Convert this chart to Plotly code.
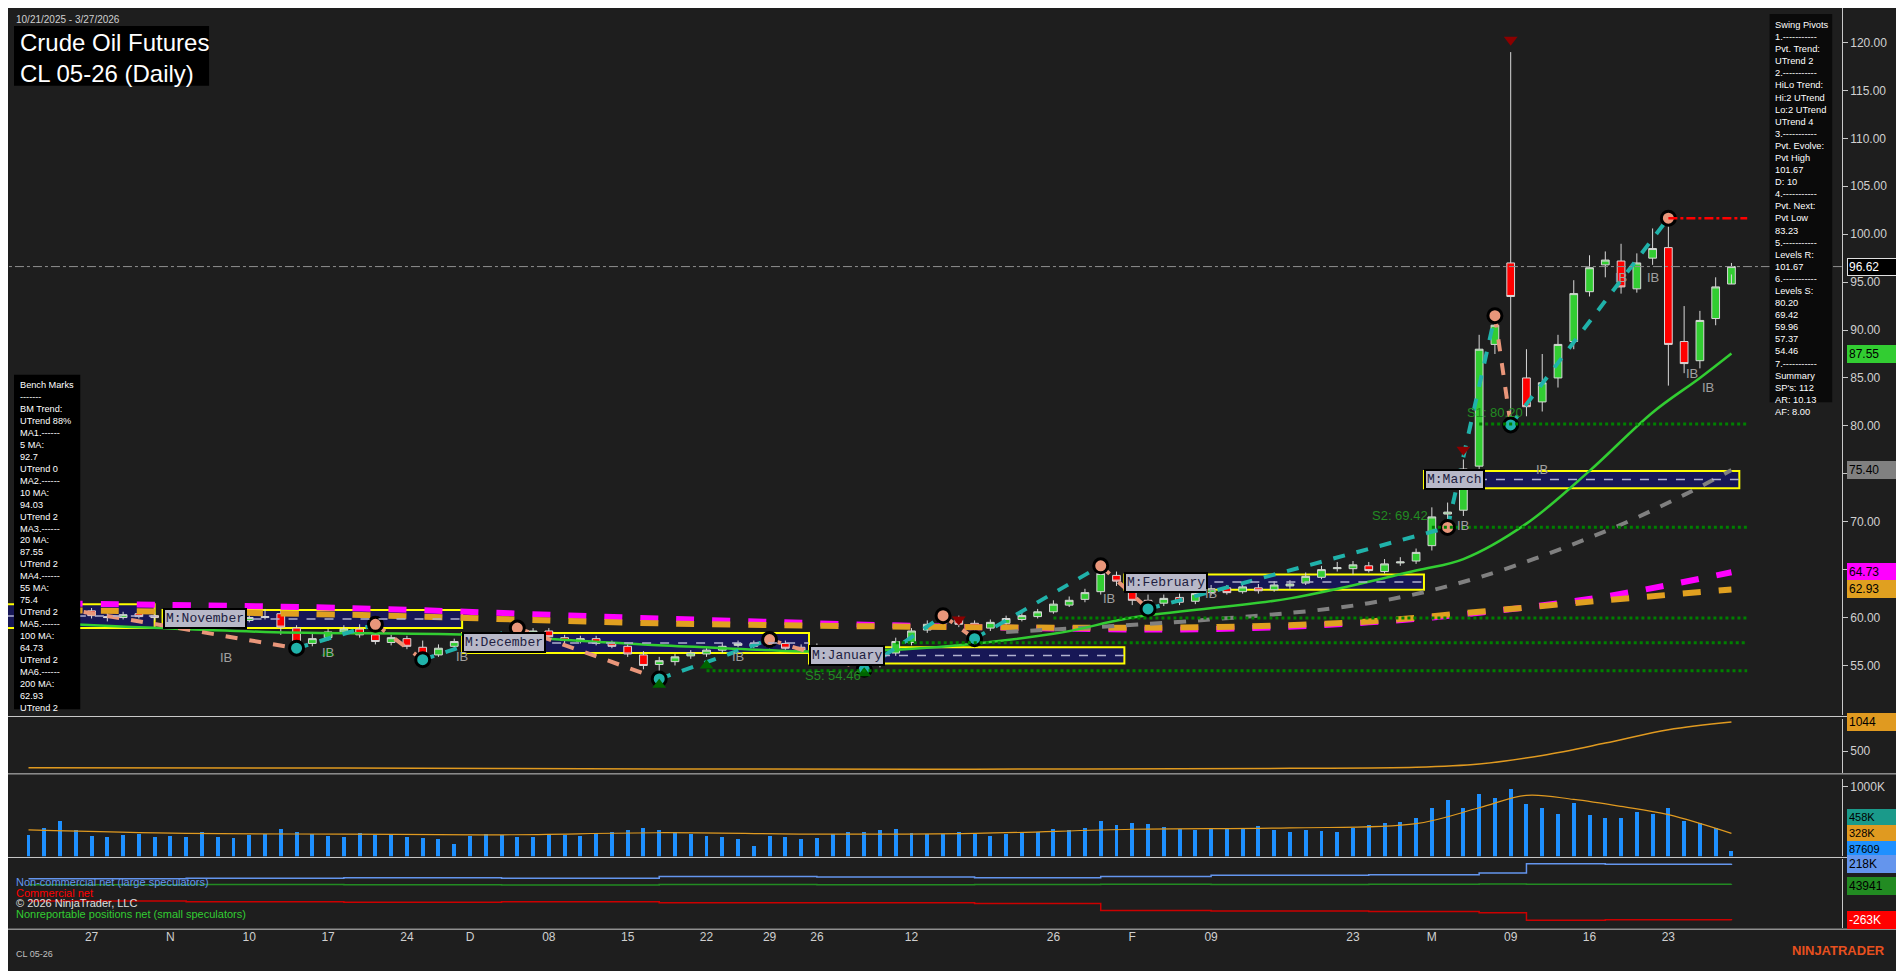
import pandas as pd
import plotly.graph_objects as go
from plotly.subplots import make_subplots

holidays = ["2025-11-27", "2025-12-25", "2026-01-01", "2026-01-19", "2026-02-16"]
dates = [d for d in pd.bdate_range("2025-10-21", "2026-03-27") if d.strftime("%Y-%m-%d") not in holidays]
idx = list(range(len(dates)))

opens = [58.6,58.3,59.0,60.4,60.7,60.1,60.0,60.4,60.2,
         60.0,60.1,59.9,59.4,59.5,59.7,60.0,60.4,58.9,57.3,57.9,58.5,58.8,58.2,57.4,57.8,56.9,56.1,57.0,
         57.6,57.8,57.6,58.3,58.4,58.6,57.9,57.5,57.8,57.3,57.0,56.1,55.1,55.4,56.0,56.2,56.6,57.1,57.3,57.0,57.3,56.9,
         56.5,56.8,56.0,55.4,55.0,56.3,57.4,58.7,59.4,59.8,59.4,58.9,59.4,59.8,60.1,60.6,61.3,61.9,62.7,64.4,
         63.4,61.8,61.5,62.1,61.7,62.6,63.1,62.7,63.1,62.9,63.3,63.6,64.2,65.1,65.1,65.4,64.8,65.7,65.9,
         67.5,70.8,71.2,75.8,88.5,97.0,85.0,82.5,85.0,88.8,94.0,96.8,97.2,94.3,97.5,98.6,88.8,86.8,91.2,94.8]
highs = [59.2,59.4,60.9,61.0,61.0,60.5,60.6,60.8,60.6,
         60.6,60.4,60.2,59.9,60.0,60.3,60.9,60.7,59.2,58.3,58.8,59.2,59.3,58.6,58.2,58.1,57.6,57.2,57.8,
         58.2,58.1,58.5,58.8,58.9,58.9,58.2,58.1,58.1,57.6,57.4,56.5,55.9,56.2,56.6,56.9,57.3,57.6,57.6,57.7,57.6,57.2,
         57.3,57.1,56.4,55.8,56.6,57.9,58.9,59.7,60.1,60.2,59.7,59.8,60.2,60.5,60.9,61.8,62.2,63.0,65.4,64.8,
         63.8,62.4,62.4,62.5,62.9,63.4,63.4,63.6,63.5,63.8,63.9,64.7,65.4,65.8,65.9,65.8,66.1,66.3,67.2,
         71.5,72.0,76.5,89.5,91.5,119.0,88.0,87.5,89.5,95.2,97.8,98.2,99.0,98.0,100.6,101.67,92.5,92.0,95.5,97.0]
lows = [57.9,58.0,58.7,60.0,59.9,59.6,59.8,59.9,59.7,
        59.6,59.5,59.2,59.0,59.2,59.5,59.8,58.2,56.8,57.0,57.6,58.2,57.9,57.2,57.1,56.7,55.6,55.9,56.8,
        57.4,57.3,57.4,58.0,58.2,57.8,57.3,57.3,57.1,56.8,55.9,54.6,53.6,55.0,55.7,55.9,56.3,56.9,56.8,56.8,56.6,56.3,
        56.2,55.7,55.0,54.6,54.8,56.0,57.1,58.4,59.1,59.0,58.6,58.6,59.1,59.6,59.9,60.4,61.1,61.6,62.4,63.3,
        61.3,60.9,61.2,61.3,61.4,62.3,62.4,62.5,62.5,62.7,63.0,63.4,64.0,64.8,64.5,64.7,64.6,65.4,65.6,
        67.0,69.4,70.6,75.0,87.5,80.1,81.0,81.5,84.0,88.0,93.5,95.5,93.8,93.9,96.8,84.2,85.5,86.0,90.5,95.8]
closes = [58.2,58.8,60.5,60.6,60.2,60.0,60.3,60.1,60.0,
          60.2,59.9,59.5,59.6,59.8,60.0,60.1,59.0,57.2,57.8,58.5,58.8,58.2,57.5,57.9,57.0,56.0,56.8,57.5,
          57.8,57.6,58.2,58.4,58.6,58.0,57.6,57.8,57.3,57.0,56.2,55.0,55.5,55.9,56.3,56.6,57.0,57.3,57.0,57.4,56.8,56.6,
          56.9,56.0,55.3,54.9,56.2,57.5,58.6,59.3,59.8,59.3,58.9,59.5,59.9,60.2,60.6,61.4,61.8,62.6,64.6,63.8,
          61.8,61.4,62.0,61.6,62.5,63.0,62.6,63.2,62.8,63.4,63.5,64.3,65.0,65.2,65.5,64.9,65.6,65.8,66.8,
          70.5,71.0,75.5,88.0,90.5,93.5,82.0,84.5,88.5,93.8,96.5,97.3,94.5,97.0,98.5,88.5,86.5,91.0,94.5,96.62]
volumes_k = [310,420,520,380,300,290,310,330,280,
             300,290,350,280,270,310,330,400,360,330,300,280,340,310,320,290,270,260,180,
             300,320,310,290,280,330,310,300,340,360,380,420,390,350,330,300,280,250,160,300,290,260,
             270,330,350,360,380,400,340,320,330,350,330,300,320,340,360,400,380,420,520,460,
             480,470,430,400,380,420,410,400,440,390,360,380,370,350,420,460,480,500,560,
             700,820,700,900,850,980,760,700,620,780,600,560,560,640,620,700,520,480,420,88]

ma20_x = [0,15,28,39,53,65,70,80,88,91,95,99,103,106,108]
ma20_y = [59.5,58.5,58.2,57.2,56.5,58.3,60.0,62.0,64.9,66.1,69.8,75.3,81.4,85.0,87.55]
ma55_x = [62,75,85,92,100,105,108]
ma55_y = [58.5,59.8,61.5,64.2,69.0,72.8,75.40]
ma100_x = [0,20,40,60,75,85,92,100,108]
ma100_y = [61.5,61.0,59.9,59.0,58.8,59.5,60.5,62.2,64.73]
ma200_x = [0,20,40,60,75,85,92,100,108]
ma200_y = [60.8,60.3,59.4,59.0,59.0,59.6,60.6,61.8,62.93]

piv_x = [2,17,22,25,31,40,47,53,58,60,68,71,90,93,94,104]
piv_y = [61.0,56.8,59.3,55.6,58.9,53.6,57.7,54.6,60.2,57.8,65.4,60.9,69.4,91.5,80.1,101.67]

oi_x = [0,20,40,60,80,88,92,96,100,104,108]
oi_y = [190,185,170,165,180,200,260,420,650,900,1044]
vavg_x = [0,10,20,30,40,50,60,70,80,88,92,95,98,101,104,108]
vavg_y = [380,330,320,310,340,320,330,390,410,470,700,880,820,720,600,330]
cot_x = [0,10,20,30,40,50,60,68,75,85,92,95,100,108]
cot_large = [90,95,100,95,110,105,100,110,120,125,140,218,215,218]
cot_comm = [-100,-105,-110,-105,-115,-115,-120,-180,-185,-190,-200,-263,-260,-263]
cot_small = [40,42,40,38,42,40,41,43,42,44,45,44,43,43.9]

levels_s = [80.20, 69.42, 59.96, 57.37, 54.46]
levels_s_start = [92, 89, 65, 55, 43]
level_r = 101.67

months = ["", "M:November", "M:December", "M:January", "M:February", "M:March"]
box_x0 = [-1.5, 8.5, 27.5, 49.5, 69.5, 88.5]
box_x1 = [8.0, 27.5, 49.5, 69.5, 88.5, 108.5]
box_y0 = [58.9, 58.9, 56.3, 55.2, 62.9, 73.5]
box_y1 = [61.4, 60.8, 58.4, 56.9, 64.5, 75.3]

tick_dates = ["2025-10-27","2025-11-03","2025-11-10","2025-11-17","2025-11-24","2025-12-01","2025-12-08",
              "2025-12-15","2025-12-22","2025-12-29","2026-01-02","2026-01-12","2026-01-26","2026-02-02",
              "2026-02-09","2026-02-23","2026-03-02","2026-03-09","2026-03-16","2026-03-23"]
tick_text = ["27","N","10","17","24","D","08","15","22","29","26","12","26","F","09","23","M","09","16","23"]

BG = "#1e1e1e"
FONT = "Liberation Sans"
dstr = [d.strftime("%Y-%m-%d") for d in dates]
tick_vals = [dstr.index(t) for t in tick_dates]

fig = make_subplots(rows=4, cols=1, shared_xaxes=True)
fig.add_trace(go.Candlestick(x=idx, open=opens, high=highs, low=lows, close=closes,
    increasing=dict(line=dict(color="#d8d8d8", width=1), fillcolor="#32cd32"),
    decreasing=dict(line=dict(color="#d8d8d8", width=1), fillcolor="#ff0000"),
    whiskerwidth=0, showlegend=False), row=1, col=1)

for i in range(len(months)):
    fig.add_shape(type="rect", x0=box_x0[i], x1=box_x1[i], y0=box_y0[i], y1=box_y1[i],
                  xref="x", yref="y", line=dict(color="#ffff00", width=2),
                  fillcolor="rgba(20,20,110,0.7)", layer="below")
    fig.add_shape(type="line", x0=box_x0[i], x1=box_x1[i], y0=(box_y0[i]+box_y1[i])/2, y1=(box_y0[i]+box_y1[i])/2,
                  xref="x", yref="y", line=dict(color="#b0b0d0", width=1.5, dash="dash"))
    if months[i]:
        fig.add_annotation(x=box_x0[i], y=(box_y0[i]+box_y1[i])/2, xref="x", yref="y", text=months[i],
                           showarrow=False, xanchor="left", bgcolor="#b8b8c8", bordercolor="#000", borderwidth=2,
                           font=dict(family="Liberation Mono", size=13, color="#202040"))

fig.add_trace(go.Scatter(x=ma100_x, y=ma100_y, mode="lines", line=dict(color="#ff00ff", width=6, dash="dash", shape="spline"), showlegend=False), row=1, col=1)
fig.add_trace(go.Scatter(x=ma200_x, y=ma200_y, mode="lines", line=dict(color="#e0a020", width=6, dash="dash", shape="spline"), showlegend=False), row=1, col=1)
fig.add_trace(go.Scatter(x=ma55_x, y=ma55_y, mode="lines", line=dict(color="#808080", width=4, dash="dash", shape="spline"), showlegend=False), row=1, col=1)
fig.add_trace(go.Scatter(x=ma20_x, y=ma20_y, mode="lines", line=dict(color="#32cd32", width=2.5, shape="spline"), showlegend=False), row=1, col=1)

for i in range(len(piv_x)-1):
    up = piv_y[i+1] > piv_y[i]
    fig.add_trace(go.Scatter(x=[piv_x[i], piv_x[i+1]], y=[piv_y[i], piv_y[i+1]], mode="lines",
        line=dict(color="#20b2aa" if up else "#e9967a", width=4, dash="dash"), showlegend=False), row=1, col=1)
fig.add_trace(go.Scatter(x=piv_x[1:], y=piv_y[1:], mode="markers",
    marker=dict(size=14, color=["#20b2aa" if piv_y[i] < piv_y[i-1] else "#e9967a" for i in range(1, len(piv_y))],
                line=dict(color="#000", width=3)), showlegend=False), row=1, col=1)

for lv, st in zip(levels_s, levels_s_start):
    fig.add_shape(type="line", x0=st, x1=109, y0=lv, y1=lv, xref="x", yref="y",
                  line=dict(color="#008000", width=3, dash="dot"))
fig.add_shape(type="line", x0=104, x1=109, y0=level_r, y1=level_r, xref="x", yref="y",
              line=dict(color="#ff0000", width=2.5, dash="dashdot"))
fig.add_shape(type="line", x0=-2, x1=116, y0=closes[-1], y1=closes[-1], xref="x", yref="y",
              line=dict(color="#909090", width=1, dash="dashdot"))
fig.add_annotation(x=51, y=54.0, xref="x", yref="y", text="S5: 54.46", showarrow=False, font=dict(family=FONT, size=13, color="#228b22"))
fig.add_annotation(x=87, y=70.6, xref="x", yref="y", text="S2: 69.42", showarrow=False, font=dict(family=FONT, size=13, color="#228b22"))
fig.add_annotation(x=93, y=81.4, xref="x", yref="y", text="S1: 80.20", showarrow=False, font=dict(family=FONT, size=13, color="#228b22"))
fig.add_trace(go.Scatter(x=[94, 91, 59], y=[120.3, 77.5, 59.8], mode="markers",
    marker=dict(symbol="triangle-down", size=12, color="#8b0000"), showlegend=False), row=1, col=1)
fig.add_trace(go.Scatter(x=[19, 43, 53, 40], y=[56.3, 55.0, 54.2, 53.0], mode="markers",
    marker=dict(symbol="triangle-up", size=12, color="#006400"), showlegend=False), row=1, col=1)
for xx, yy in [(12.5, 55.8), (19, 56.4), (27.5, 55.9), (45, 55.9), (68.5, 62.0), (75, 62.5), (96, 75.4), (101, 95.5), (103, 95.5), (106.5, 84.0), (105.5, 85.5), (91, 69.6)]:
    fig.add_annotation(x=xx, y=yy, xref="x", yref="y", text="IB", showarrow=False, font=dict(family=FONT, size=13, color="#a0a0a0"))

fig.add_trace(go.Scatter(x=oi_x, y=oi_y, mode="lines", line=dict(color="#e09a20", width=1.5, shape="spline"), showlegend=False), row=2, col=1)
fig.add_trace(go.Bar(x=idx, y=volumes_k, marker=dict(color="#1e90ff", line=dict(width=0)), width=0.25, showlegend=False), row=3, col=1)
fig.add_trace(go.Scatter(x=vavg_x, y=vavg_y, mode="lines", line=dict(color="#e09a20", width=1.2, shape="spline"), showlegend=False), row=3, col=1)
fig.add_trace(go.Scatter(x=cot_x, y=cot_large, mode="lines", line=dict(color="#6495ed", width=1.5, shape="hv"), showlegend=False), row=4, col=1)
fig.add_trace(go.Scatter(x=cot_x, y=cot_small, mode="lines", line=dict(color="#228b22", width=1.5, shape="hv"), showlegend=False), row=4, col=1)
fig.add_trace(go.Scatter(x=cot_x, y=cot_comm, mode="lines", line=dict(color="#cc0000", width=1.5, shape="hv"), showlegend=False), row=4, col=1)

H = 806.0
W = 1568.0
def py(y):
    return 1 - y / H
XEND = 1523 / W
doms = [(py(592), py(0)), (py(640), py(595)), (py(710), py(645)), (py(770), py(712))]
xr = [-1.3, 115.0]
axfont = dict(family=FONT, size=12, color="#d0d0d0")
fig.update_layout(paper_bgcolor=BG, plot_bgcolor=BG, width=1888, height=963, margin=dict(l=0, r=0, t=0, b=0),
                  xaxis_rangeslider_visible=False, showlegend=False, bargap=0)
for r in range(1, 5):
    fig.update_xaxes(row=r, col=1, range=xr, showgrid=False, zeroline=False, domain=[0, XEND],
                     showticklabels=False, ticks="", rangeslider_visible=False)
fig.update_xaxes(row=4, col=1, showticklabels=True, tickvals=tick_vals, ticktext=tick_text, tickfont=axfont)
ranges = [[49.8, 123.6], [100, 1100], [0, 1120], [-330, 262]]
for r in range(1, 5):
    fig.update_yaxes(row=r, col=1, domain=list(doms[r-1]), range=ranges[r-1], side="right", showgrid=False,
                     zeroline=False, tickfont=axfont, ticks="outside", ticklen=5, tickcolor="#c8c8c8",
                     showline=True, linecolor="#c8c8c8", linewidth=1)
fig.update_yaxes(row=1, col=1, tickvals=[55,60,65,70,75,80,85,90,95,100,105,110,115,120], tickformat=".2f")
fig.update_yaxes(row=2, col=1, tickvals=[500], ticktext=["500"])
fig.update_yaxes(row=3, col=1, tickvals=[1000], ticktext=["1000K"])
fig.update_yaxes(row=4, col=1, tickvals=[], showticklabels=False)

for yy in [593, 641, 711, 771]:
    fig.add_shape(type="line", xref="paper", yref="paper", x0=0, x1=1, y0=py(yy), y1=py(yy), line=dict(color="#c8c8c8", width=1))

def tag(y, yref, text, bg, fc="#000", size=12):
    fig.add_annotation(x=XEND + 0.003, y=y, xref="paper", yref=yref, text=text, showarrow=False, xanchor="left",
                       bgcolor=bg, bordercolor="#e0e0e0" if bg == "#000" else bg, borderwidth=1, width=50, align="left",
                       font=dict(family=FONT, size=size, color=fc))
tag(96.62, "y", "96.62", "#000", "#fff")
tag(87.55, "y", "87.55", "#32cd32")
tag(75.40, "y", "75.40", "#808080")
tag(64.73, "y", "64.73", "#ff00ff")
tag(62.93, "y", "62.93", "#e0a020")
tag(1044, "y2", "1044", "#e09a20")
tag(560, "y3", "458K", "#1a9a8a", "#000", 11)
tag(335, "y3", "328K", "#e09a20", "#000", 11)
tag(110, "y3", "87609", "#1e90ff", "#000", 11)
tag(218, "y4", "218K", "#6495ed")
tag(30, "y4", "43941", "#228b22")
tag(-263, "y4", "-263K", "#ff0000", "#fff")

fig.add_shape(type="rect", xref="paper", yref="paper", x0=5/W, x1=167/W, y0=py(65), y1=py(15), fillcolor="#000", line=dict(width=0))
fig.add_annotation(x=5/W, y=py(3), xref="paper", yref="paper", text="10/21/2025 - 3/27/2026", showarrow=False,
                   xanchor="left", yanchor="top", font=dict(family=FONT, size=10, color="#d0d0d0"))
fig.add_annotation(x=8/W, y=py(16), xref="paper", yref="paper", text="Crude Oil Futures<br>CL 05-26 (Daily)", showarrow=False,
                   xanchor="left", yanchor="top", align="left", font=dict(family=FONT, size=24, color="#fff"))

bench = ["Bench Marks","-------","BM Trend:","UTrend 88%","MA1.------","5 MA:","92.7","UTrend 0","MA2.------","10 MA:","94.03",
         "UTrend 2","MA3.------","20 MA:","87.55","UTrend 2","MA4.------","55 MA:","75.4","UTrend 2","MA5.------","100 MA:",
         "64.73","UTrend 2","MA6.------","200 MA:","62.93","UTrend 2"]
fig.add_shape(type="rect", xref="paper", yref="paper", x0=5/W, x1=60/W, y0=py(587), y1=py(307), fillcolor="#000", line=dict(width=0))
fig.add_annotation(x=8/W, y=py(310), xref="paper", yref="paper", text="<br>".join(bench), showarrow=False,
                   xanchor="left", yanchor="top", align="left", font=dict(family=FONT, size=9.2, color="#fff"))
swing = ["Swing Pivots","1.-----------","Pvt. Trend:","UTrend 2","2.-----------","HiLo Trend:","Hi:2 UTrend","Lo:2 UTrend","UTrend 4",
         "3.-----------","Pvt. Evolve:","Pvt High","101.67","D: 10","4.-----------","Pvt. Next:","Pvt Low","83.23","5.-----------",
         "Levels R:","101.67","6.-----------","Levels S:","80.20","69.42","59.96","57.37","54.46","7.-----------","Summary",
         "SP's: 112","AR: 10.13","AF: 8.00"]
fig.add_shape(type="rect", xref="paper", yref="paper", x0=1463/W, x1=1515/W, y0=py(330), y1=py(5), fillcolor="#0a0a0a", line=dict(width=0))
fig.add_annotation(x=1466/W, y=py(8), xref="paper", yref="paper", text="<br>".join(swing), showarrow=False,
                   xanchor="left", yanchor="top", align="left", font=dict(family=FONT, size=9.3, color="#fff"))

for t, c, yy in [("Non-commercial net (large speculators)", "#6495ed", 738), ("Commercial net", "#ff0000", 747),
                 ("© 2026 NinjaTrader, LLC", "#e0e0e0", 756), ("Nonreportable positions net (small speculators)", "#32cd32", 765)]:
    fig.add_annotation(x=5/W, y=py(yy), xref="paper", yref="paper", text=t, showarrow=False, xanchor="left",
                       font=dict(family=FONT, size=11, color=c))
fig.add_annotation(x=5/W, y=py(798), xref="paper", yref="paper", text="CL 05-26", showarrow=False, xanchor="left",
                   font=dict(family=FONT, size=9, color="#c0c0c0"))
fig.add_annotation(x=0.995, y=py(797), xref="paper", yref="paper", text="<b>NINJATRADER</b>", showarrow=False, xanchor="right",
                   font=dict(family=FONT, size=13, color="#e8501e"))

fig.write_html("out.html")
